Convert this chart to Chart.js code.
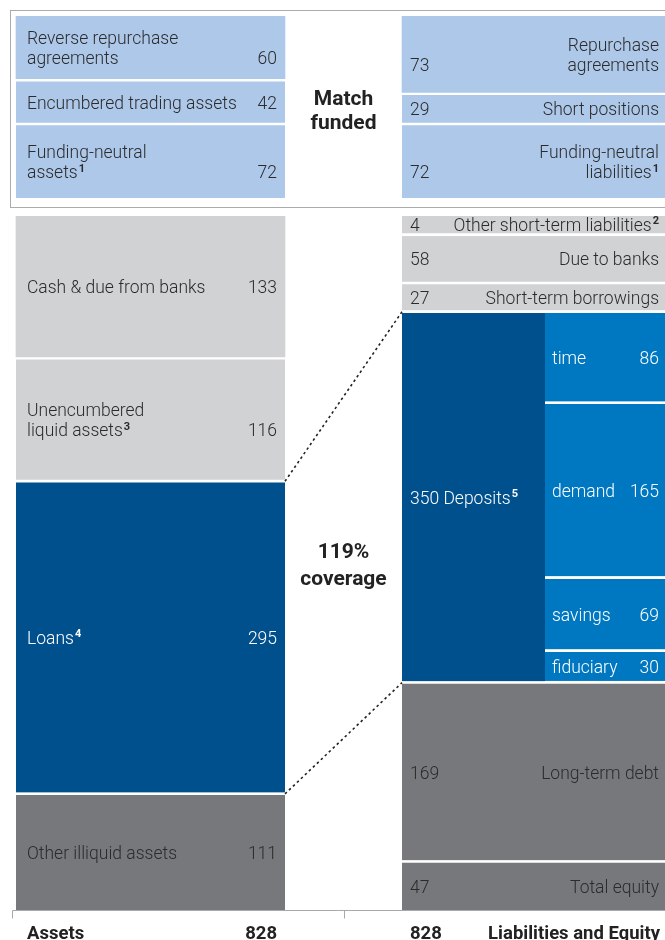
<!DOCTYPE html>
<html>
<head>
<meta charset="utf-8">
<script src="https://cdn.jsdelivr.net/npm/chart.js@4"></script>
<style>
  html, body { margin: 0; padding: 0; background: #fff; }
  #page { position: relative; width: 665px; height: 940px; overflow: hidden; }
  #matchBox { position: absolute; left: 10px; top: 10px; width: 700px; height: 198px;
              border: 1px solid #a9abae; border-right: none; box-sizing: border-box; }
  #topWrap { position: absolute; left: 0; top: 0; }
  #bottomWrap { position: absolute; left: 0; top: 208px; }
</style>
</head>
<body>
<div id="page">
  <div id="matchBox"></div>
  <div id="topWrap"><canvas id="topChart" width="665" height="208"></canvas></div>
  <div id="bottomWrap"><canvas id="bottomChart" width="665" height="732"></canvas></div>
</div>
<script>
// Balance sheet, in bn
const matchedAssetNames = ['Reverse repurchase\nagreements', 'Encumbered trading assets', 'Funding-neutral\nassets¹'];
const matchedAssetValues = [60, 42, 72];
const matchedLiabilityNames = ['Repurchase\nagreements', 'Short positions', 'Funding-neutral\nliabilities¹'];
const matchedLiabilityValues = [73, 29, 72];

const assetNames = ['Cash & due from banks', 'Unencumbered\nliquid assets³', 'Loans⁴', 'Other illiquid assets'];
const assetValues = [133, 116, 295, 111];
const liabilityNames = ['Other short-term liabilities²', 'Due to banks', 'Short-term borrowings', 'Deposits⁵', 'Long-term debt', 'Total equity'];
const liabilityValues = [4, 58, 27, 350, 169, 47];
const depositNames = ['time', 'demand', 'savings', 'fiduciary'];
const depositValues = [86, 165, 69, 30];

const totalAssets = 828;
const totalLiabilities = 828;
const totalLabels = ['Assets', 'Liabilities and Equity'];
const matchLabel = ['Match', 'funded'];
const coverageLabel = ['119%', 'coverage'];

// colours
const LIGHT_BLUE = '#adc8e9';
const GREY = '#d1d2d4';
const DARK_GREY = '#77787b';
const NAVY = '#00508e';
const BLUE = '#0078c1';
const TEXT = '#2b2b2b';
const FONT = 'Roboto, "Liberation Sans", sans-serif';
const LABEL_FONT = `300 17.5px ${FONT}`;
const SUP_FONT = `bold 11px ${FONT}`;

const assetColors = [GREY, GREY, NAVY, DARK_GREY];
const liabilityColors = [GREY, GREY, GREY, NAVY, DARK_GREY, DARK_GREY];

// column layout, x scale runs 0..665 across the canvas
const cols = {
    left: [16, 285],
    right: [402, 665],
    depMain: [402, 545],
    depSplit: [545, 665]
};

const sum = arr => arr.reduce((a, b) => a + b, 0);

function segments(names, values, colors, colKey, style, startAt = 0, firstBorder = 0) {
    let start = startAt;
    const col = cols[colKey];
    return values.map((v, i) => {
        const ds = {
            label: names[i].replace('\n', ' '),
            data: [{ x: (col[0] + col[1]) / 2, y: [start, start + v] }],
            backgroundColor: colors[i],
            borderColor: '#fff',
            borderWidth: { top: i === 0 ? firstBorder : 3, bottom: 0, left: 0, right: 0 },
            borderSkipped: false,
            barThickness: col[1] - col[0],
            grouped: false,
            seg: {
                name: names[i], value: String(v), style, col: colKey,
                color: (colors[i] === NAVY || colors[i] === BLUE) ? '#fff' : TEXT
            }
        };
        start += v;
        return ds;
    });
}

// top box: match funded
const topSets = [
    ...segments(matchedAssetNames, matchedAssetValues, matchedAssetValues.map(() => LIGHT_BLUE), 'left', 'left'),
    ...segments(matchedLiabilityNames, matchedLiabilityValues, matchedLiabilityValues.map(() => LIGHT_BLUE), 'right', 'right')
];

// bottom: rest of balance sheet
const liabSets = segments(liabilityNames, liabilityValues, liabilityColors, 'right', 'right');
// small item gets a minimum height so its label fits
liabSets[0].minBarLength = 20;
liabSets[0].borderWidth = { top: 0, bottom: 3, left: 0, right: 0 };
// deposits take the left part of the column, breakdown on the right
const depIdx = liabilityNames.indexOf('Deposits⁵');
liabSets[depIdx].data[0].x = (cols.depMain[0] + cols.depMain[1]) / 2;
liabSets[depIdx].barThickness = cols.depMain[1] - cols.depMain[0];
liabSets[depIdx].seg.style = 'deposit';
liabSets[depIdx].seg.id = 'deposits';

const assetSets = segments(assetNames, assetValues, assetColors, 'left', 'left');
assetSets[2].seg.id = 'loans';

const depStart = sum(liabilityValues.slice(0, depIdx));
const depositSets = segments(depositNames, depositValues, depositValues.map(() => BLUE), 'depSplit', 'split', depStart, 3);

const bottomSets = [...liabSets, ...depositSets, ...assetSets];

function box(chart, di) {
    const el = chart.getDatasetMeta(di).data[0];
    const { x, y, base, width } = el.getProps(['x', 'y', 'base', 'width'], true);
    return { left: x - width / 2, right: x + width / 2, top: Math.min(y, base), bottom: Math.max(y, base) };
}

// text with a trailing footnote mark drawn as a small bold raised digit
const SUPS = { '¹': '1', '²': '2', '³': '3', '⁴': '4', '⁵': '5' };
function drawLabel(ctx, text, x, y, align) {
    const last = text.slice(-1);
    if (!SUPS[last]) {
        ctx.textAlign = align;
        ctx.fillText(text, x, y);
        return;
    }
    const main = text.slice(0, -1);
    const sup = SUPS[last];
    ctx.font = SUP_FONT;
    const sw = ctx.measureText(sup).width + 1;
    ctx.font = LABEL_FONT;
    const mw = ctx.measureText(main).width;
    const x0 = align === 'right' ? x - sw - mw : x;
    ctx.textAlign = 'left';
    ctx.fillText(main, x0, y);
    ctx.font = SUP_FONT;
    ctx.fillText(sup, x0 + mw + 1, y - 5);
    ctx.font = LABEL_FONT;
}

const segmentLabels = {
    id: 'segmentLabels',
    afterDatasetsDraw(chart) {
        const ctx = chart.ctx;
        const covered = {};
        ctx.save();
        ctx.font = LABEL_FONT;
        ctx.textBaseline = 'middle';
        chart.data.datasets.forEach((ds, di) => {
            const s = ds.seg;
            const b = box(chart, di);
            const bw = ds.borderWidth;
            const colKey = s.col === 'depMain' ? 'right' : s.col;
            const top = Math.max(b.top + bw.top, covered[colKey] || -Infinity);
            const bottom = b.bottom - bw.bottom;
            covered[colKey] = Math.max(b.bottom, covered[colKey] || -Infinity);
            const mid = (top + bottom) / 2 + 2;
            const lines = s.name.split('\n');
            const y0 = mid - (lines.length - 1) * 10;
            const yLast = y0 + (lines.length - 1) * 20;
            ctx.fillStyle = s.color;
            if (s.style === 'left') {
                lines.forEach((l, i) => drawLabel(ctx, l, b.left + 11, y0 + i * 20, 'left'));
                drawLabel(ctx, s.value, b.right - 8, yLast, 'right');
            } else if (s.style === 'right') {
                lines.forEach((l, i) => drawLabel(ctx, l, b.right - 6, y0 + i * 20, 'right'));
                drawLabel(ctx, s.value, b.left + 8, yLast, 'left');
            } else if (s.style === 'deposit') {
                drawLabel(ctx, s.value + ' ' + s.name, b.left + 8, mid, 'left');
            } else {
                drawLabel(ctx, s.name, b.left + 7, mid, 'left');
                drawLabel(ctx, s.value, b.right - 6, mid, 'right');
            }
        });
        ctx.restore();
    }
};

function centreText(chart, lines, size, lh, shift) {
    const ctx = chart.ctx;
    const x = chart.scales.x.getPixelForValue((cols.left[1] + cols.right[0]) / 2);
    const { top, bottom } = chart.chartArea;
    const mid = (top + bottom) / 2 + shift;
    ctx.save();
    ctx.font = `bold ${size}px ${FONT}`;
    ctx.fillStyle = '#222';
    ctx.textAlign = 'center';
    ctx.textBaseline = 'middle';
    lines.forEach((l, i) => ctx.fillText(l, x, mid - (lines.length - 1) * lh / 2 + i * lh));
    ctx.restore();
}

const matchText = {
    id: 'matchText',
    afterDraw(chart) { centreText(chart, matchLabel, 21, 24, 5); }
};

const bottomOverlay = {
    id: 'bottomOverlay',
    afterDraw(chart) {
        const ctx = chart.ctx;
        const xs = chart.scales.x;
        const idx = id => chart.data.datasets.findIndex(d => d.seg.id === id);
        const loans = box(chart, idx('loans'));
        const dep = box(chart, idx('deposits'));

        // dotted links between loans and deposits
        ctx.save();
        ctx.strokeStyle = '#222';
        ctx.lineWidth = 1.6;
        ctx.setLineDash([2.5, 3]);
        ctx.beginPath();
        ctx.moveTo(loans.right, loans.top + 1.5);
        ctx.lineTo(dep.left, dep.top + 1.5);
        ctx.moveTo(loans.right, loans.bottom + 1.5);
        ctx.lineTo(dep.left, dep.bottom + 1.5);
        ctx.stroke();
        ctx.restore();

        centreText(chart, coverageLabel, 21, 27, 3);

        // base line with ticks
        const yb = chart.chartArea.bottom + 0.5;
        const xMid = xs.getPixelForValue((cols.left[1] + cols.right[0]) / 2);
        ctx.save();
        ctx.strokeStyle = '#a7a9ac';
        ctx.lineWidth = 1;
        ctx.beginPath();
        ctx.moveTo(12.5, yb);
        ctx.lineTo(chart.width, yb);
        ctx.moveTo(12.5, yb);
        ctx.lineTo(12.5, yb + 8);
        ctx.moveTo(Math.round(xMid) + 0.5, yb);
        ctx.lineTo(Math.round(xMid) + 0.5, yb + 8);
        ctx.stroke();

        // totals
        const yt = chart.chartArea.bottom + 24;
        ctx.font = `bold 18.5px ${FONT}`;
        ctx.fillStyle = '#222';
        ctx.textBaseline = 'middle';
        ctx.textAlign = 'left';
        ctx.fillText(totalLabels[0], xs.getPixelForValue(cols.left[0]) + 11, yt);
        ctx.textAlign = 'right';
        ctx.fillText(String(totalAssets), xs.getPixelForValue(cols.left[1]) - 8, yt);
        ctx.textAlign = 'left';
        ctx.fillText(String(totalLiabilities), xs.getPixelForValue(cols.right[0]) + 8, yt);
        ctx.textAlign = 'right';
        ctx.fillText(totalLabels[1], xs.getPixelForValue(cols.right[1]) - 5, yt);
        ctx.restore();
    }
};

function makeChart(canvasId, datasets, yMax, padding, extra) {
    return new Chart(document.getElementById(canvasId), {
        type: 'bar',
        data: { datasets },
        options: {
            responsive: false,
            animation: false,
            layout: { padding },
            scales: {
                x: { type: 'linear', min: 0, max: 665, offset: false, display: false },
                y: { min: 0, max: yMax, reverse: true, display: false }
            },
            plugins: { legend: { display: false }, tooltip: { enabled: false } }
        },
        plugins: [segmentLabels, extra]
    });
}

makeChart('topChart', topSets, Math.max(sum(matchedAssetValues), sum(matchedLiabilityValues)),
    { top: 16, bottom: 10, left: 0, right: 0 }, matchText);
makeChart('bottomChart', bottomSets, Math.max(sum(assetValues), sum(liabilityValues)),
    { top: 8, bottom: 30, left: 0, right: 0 }, bottomOverlay);
</script>
</body>
</html>
